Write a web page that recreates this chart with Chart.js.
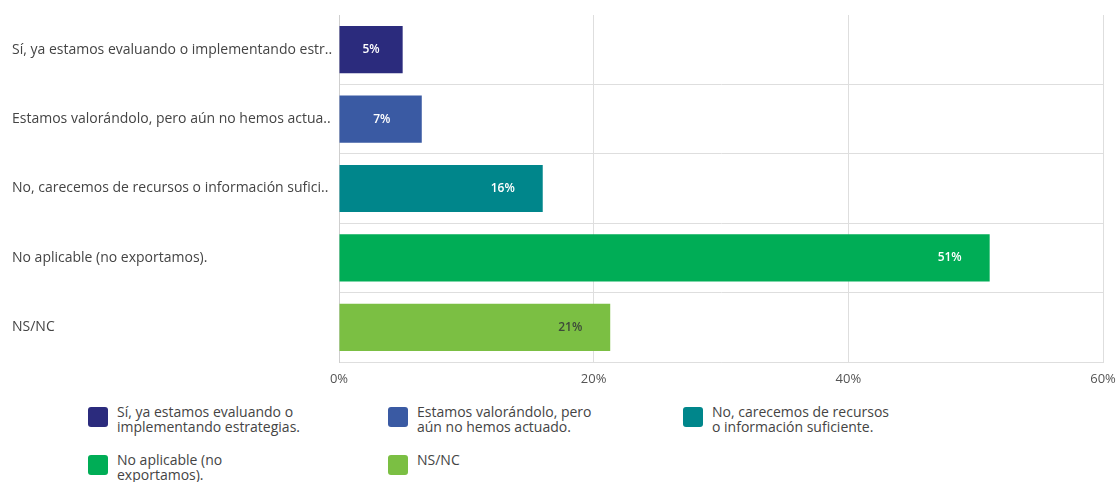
<!DOCTYPE html>
<html lang="es">
<head>
<meta charset="utf-8">
<title>Estrategias de exportación</title>
<script src="https://cdn.jsdelivr.net/npm/chart.js@4.4.1/dist/chart.umd.min.js"></script>
<style>
  html, body { margin: 0; padding: 0; background: #fff; }
  body { width: 1116px; height: 482px; position: relative; overflow: hidden; font-family: 'Open Sans', 'Noto Sans', sans-serif; }
  #wrap { position: absolute; left: 0; top: 0; width: 1116px; height: 392px; }
  #legend { position: absolute; left: 0; top: 400px; width: 1116px; height: 82px; }
  .lg-item { position: absolute; display: flex; align-items: flex-start; }
  .lg-box { width: 20px; height: 20px; border-radius: 3px; margin-top: 3px; margin-right: 9px; flex: none; }
  .lg-text { font-size: 14px; line-height: 15px; color: #444; }
</style>
</head>
<body>
<div id="wrap"><canvas id="chart" width="1116" height="392"></canvas></div>
<div id="legend"></div>
<script>
// categories as shown on the axis (already truncated in the original)
const axisLabels = [
  'Sí, ya estamos evaluando o implementando estr..',
  'Estamos valorándolo, pero aún no hemos actua..',
  'No, carecemos de recursos o información sufici..',
  'No aplicable (no exportamos).',
  'NS/NC'
];
// full legend text, split in lines like the original
const legendLines = [
  ['Sí, ya estamos evaluando o', 'implementando estrategias.'],
  ['Estamos valorándolo, pero', 'aún no hemos actuado.'],
  ['No, carecemos de recursos', 'o información suficiente.'],
  ['No aplicable (no', 'exportamos).'],
  ['NS/NC']
];
const values = [5.0, 6.5, 16.0, 51.1, 21.3];
const shownValues = ['5%', '7%', '16%', '51%', '21%'];
const barColors = ['#2b2b7d', '#3a5aa3', '#00868b', '#00ad56', '#7bbf43'];
const labelColors = ['#ffffff', '#ffffff', '#ffffff', '#ffffff', '#3d4a3a'];
const xTicks = [0, 20, 40, 60];

const GRID = '#dedede';

const barLabels = {
  id: 'barLabels',
  afterDatasetsDraw(chart) {
    const ctx = chart.ctx;
    const meta = chart.getDatasetMeta(0);
    ctx.save();
    ctx.font = '600 12px "Open Sans", sans-serif';
    ctx.textAlign = 'center';
    ctx.textBaseline = 'middle';
    meta.data.forEach((bar, i) => {
      const center = (bar.x + bar.base) / 2;
      const x = Math.max(center, bar.x - 40);
      ctx.fillStyle = labelColors[i];
      ctx.fillText(shownValues[i], x, bar.y);
    });
    ctx.restore();
  }
};

new Chart(document.getElementById('chart'), {
  type: 'bar',
  data: {
    labels: axisLabels,
    datasets: [{
      data: values,
      backgroundColor: barColors,
      borderWidth: 0,
      categoryPercentage: 0.68,
      barPercentage: 1
    }]
  },
  options: {
    indexAxis: 'y',
    responsive: false,
    animation: false,
    events: [],
    layout: { padding: { left: 12, right: 13, top: 15, bottom: 0 } },
    plugins: {
      legend: { display: false },
      tooltip: { enabled: false }
    },
    scales: {
      x: {
        min: 0,
        max: 60,
        afterBuildTicks: s => { s.ticks = xTicks.map(v => ({ value: v })); },
        afterFit: s => { s.height = 30; s.paddingRight = 0; s.paddingLeft = 0; },
        grid: { color: GRID, drawTicks: false },
        border: { display: true, color: GRID },
        ticks: {
          padding: 9,
          color: '#555',
          font: { family: 'Open Sans', size: 13 },
          callback: v => v + '%'
        }
      },
      y: {
        afterFit: s => { s.width = 327; },
        grid: {
          color: c => c.index === 0 ? 'rgba(0,0,0,0)' : GRID,
          drawTicks: false
        },
        border: { display: true, color: '#cfcfcf' },
        ticks: {
          crossAlign: 'far',
          color: '#444',
          font: { family: 'Open Sans', size: 14 }
        }
      }
    }
  },
  plugins: [barLabels]
});

// legend, laid out in three columns like the original
const legendPos = [[88, 4], [388, 4], [683, 4], [88, 52], [388, 52]];
const legendEl = document.getElementById('legend');
legendLines.forEach((lines, i) => {
  const item = document.createElement('div');
  item.className = 'lg-item';
  item.style.left = legendPos[i][0] + 'px';
  item.style.top = legendPos[i][1] + 'px';
  item.innerHTML = `<div class="lg-box" style="background:${barColors[i]}"></div><div class="lg-text">${lines.join('<br>')}</div>`;
  legendEl.appendChild(item);
});
</script>
</body>
</html>
